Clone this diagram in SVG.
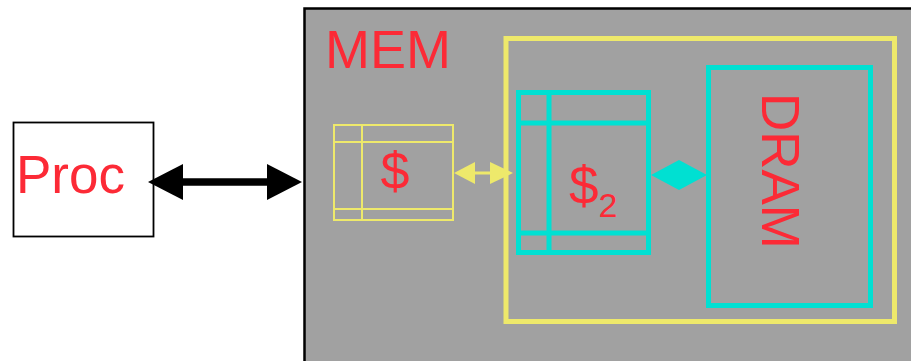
<svg xmlns="http://www.w3.org/2000/svg" width="911" height="361" viewBox="0 0 911 361">
<style>
.t{font-family:"Liberation Sans",Arial,sans-serif;fill:#fc2a36}
.y{fill:none;stroke:#eee96b}
.c{fill:none;stroke:#00e0d2;stroke-width:5}
</style>
<rect width="911" height="361" fill="#fff"/>
<g id="mem">
<rect x="304.5" y="8.5" width="620" height="370" fill="#a1a1a1" stroke="#000" stroke-width="2.5"/>
<text class="t" x="325" y="68" font-size="54">MEM</text>
</g>
<g id="proc">
<rect x="13.5" y="122.5" width="140" height="114" fill="#fff" stroke="#000" stroke-width="1.8"/>
<text class="t" x="16" y="193" font-size="53">Proc</text>
</g>
<g id="l2group">
<rect class="y" x="506" y="38.5" width="388.5" height="283" stroke-width="5"/>
</g>
<g id="cache1">
<rect class="y" x="334" y="125" width="119" height="95" stroke-width="2"/>
<path class="y" d="M334 142H453M334 209H453M362 125V220" stroke-width="2"/>
<text class="t" x="395" y="189" font-size="52" text-anchor="middle">$</text>
</g>
<g id="cache2">
<rect class="c" x="518.5" y="92.5" width="130" height="160"/>
<path class="c" d="M518 123H649M518 233H649M549 92V253"/>
<text class="t" x="569" y="204" font-size="53">$<tspan font-size="34" y="217">2</tspan></text>
</g>
<g id="dram">
<rect class="c" x="708.5" y="67.5" width="162" height="238"/>
<text class="t" font-size="53" text-anchor="middle" transform="translate(762,171) rotate(90)">DRAM</text>
</g>
<g id="connectors">
<line x1="180" y1="182" x2="270" y2="182" stroke="#000" stroke-width="7.5"/>
<polygon points="148,182 183,164 183,200" fill="#000"/>
<polygon points="302,182 267,164 267,200" fill="#000"/>
<line x1="472" y1="173" x2="493" y2="173" stroke="#eee96b" stroke-width="3"/>
<polygon points="454,173 475,162 475,184" fill="#eee96b"/>
<polygon points="513,173 490,162 490,184" fill="#eee96b"/>
<polygon points="651,175 679,160 707,175 679,190" fill="#00e0d2"/>
</g>
</svg>
